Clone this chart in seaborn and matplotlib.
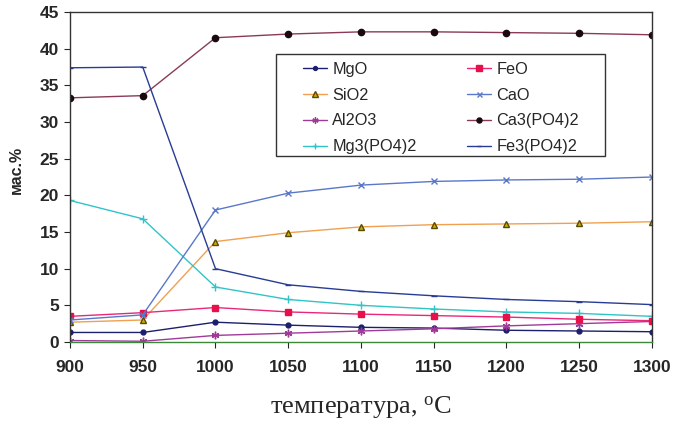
import matplotlib
matplotlib.use("Agg")
import matplotlib.pyplot as plt
from matplotlib.patches import Rectangle
import seaborn as sns
import numpy as np

temps = [900, 950, 1000, 1050, 1100, 1150, 1200, 1250, 1300]
mgo = [1.3, 1.3, 2.7, 2.3, 2.0, 1.9, 1.6, 1.5, 1.4]
sio2 = [2.7, 3.0, 13.7, 14.9, 15.7, 16.0, 16.1, 16.2, 16.4]
al2o3 = [0.2, 0.1, 0.9, 1.2, 1.5, 1.8, 2.2, 2.5, 2.8]
mg3po4 = [19.3, 16.8, 7.5, 5.8, 5.0, 4.5, 4.1, 3.9, 3.5]
feo = [3.5, 4.0, 4.7, 4.1, 3.8, 3.6, 3.4, 3.1, 2.9]
cao = [3.0, 3.7, 18.0, 20.3, 21.4, 21.9, 22.1, 22.2, 22.5]
ca3po4 = [33.3, 33.6, 41.5, 42.0, 42.3, 42.3, 42.2, 42.1, 41.9]
fe3po4 = [37.4, 37.5, 10.0, 7.8, 6.9, 6.3, 5.8, 5.5, 5.1]

names = ["MgO", "SiO2", "Al2O3", "Mg3(PO4)2", "FeO", "CaO", "Ca3(PO4)2", "Fe3(PO4)2"]
series = [mgo, sio2, al2o3, mg3po4, feo, cao, ca3po4, fe3po4]
styles = [
    dict(color="#1c1f6b", marker="o", markersize=3.5, mfc="#1c1f6b", mec="#1c1f6b"),
    dict(color="#f0a050", marker="^", markersize=5, mfc="#c8b000", mec="#5a4a00"),
    dict(color="#a03a98", marker=(6, 2, 0), markersize=5.5, mfc="#a03a98", mec="#a03a98"),
    dict(color="#30c4c8", marker="+", markersize=6, mfc="#30c4c8", mec="#30c4c8"),
    dict(color="#e8287a", marker="s", markersize=5, mfc="#e8104a", mec="#e8104a"),
    dict(color="#5a78c8", marker="x", markersize=4.5, mfc="#5a78c8", mec="#5a78c8"),
    dict(color="#8a3a58", marker="o", markersize=4.5, mfc="#1a0a10", mec="#1a0a10"),
    dict(color="#283c94", marker="_", markersize=4, mfc="#283c94", mec="#283c94"),
]

sns.set_style("white")
plt.rcParams["font.family"] = ["Liberation Sans", "DejaVu Sans"]

fig = plt.figure(figsize=(6.77, 4.23), dpi=100)
ax = fig.add_axes([0.1034, 0.1915, 0.8596, 0.780])

for name, vals, st in zip(names, series, styles):
    sns.lineplot(x=temps, y=vals, ax=ax, label=name, color=st["color"],
                 marker=st["marker"], markersize=st["markersize"],
                 markerfacecolor=st["mfc"], markeredgecolor=st["mec"],
                 linewidth=1.0, markeredgewidth=1.0)

ax.set_xlim(900, 1300)
ax.set_ylim(0, 45)
ax.set_xticks(temps)
ax.set_yticks(np.arange(0, 46, 5))
for lab in ax.get_xticklabels() + ax.get_yticklabels():
    lab.set_fontweight("bold")
    lab.set_fontsize(12.5)
ax.tick_params(axis="x", pad=9, length=4, direction="out", bottom=True)
ax.tick_params(axis="y", length=4, direction="out", left=True, pad=4)
for s in ax.spines.values():
    s.set_color("#333333")
    s.set_linewidth(1.0)
ax.spines["bottom"].set_color("#3a8a3a")

ax.set_ylabel("мас.%", fontsize=11.5, fontweight="bold", labelpad=8)
ax.yaxis.set_label_coords(-0.08, 0.52)
ax.set_xlabel("температура, $\\mathregular{^{o}}$C", fontsize=19,
              family=["Liberation Serif", "DejaVu Serif"], labelpad=14)

# legend box frame
ax.add_patch(Rectangle((0.354, 0.5636), 0.919 - 0.354, 0.873 - 0.5636,
                       transform=ax.transAxes, facecolor="white",
                       edgecolor="#333333", linewidth=1.0, zorder=4))
leg = ax.legend(ncol=2, loc="upper left", bbox_to_anchor=(0.4003, 0.8485),
                frameon=False, fontsize=11.7, handlelength=1.5,
                columnspacing=3.1, labelspacing=0.66, borderpad=0.0,
                handletextpad=0.3, borderaxespad=0, markerscale=0.8)
leg.set_zorder(5)

fig.savefig("out.png", dpi=100)
